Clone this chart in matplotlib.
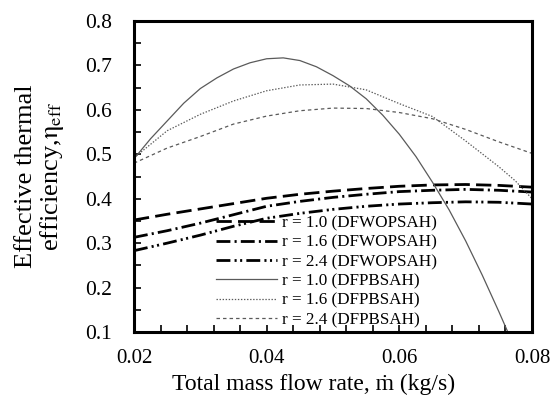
"""Effective thermal efficiency vs total mass flow rate
DFWOPSAH vs DFPBSAH, three r values each
"""

# imports

import matplotlib
matplotlib.use("Agg")
import matplotlib.pyplot as plt
from matplotlib.ticker import MultipleLocator, FixedLocator

# data

flow_wop = [0.02, 0.025, 0.03, 0.035, 0.04, 0.045, 0.05, 0.055, 0.06, 0.065, 0.07, 0.075, 0.08]
wop_r10 = [0.352, 0.365, 0.377, 0.389, 0.401, 0.410, 0.417, 0.423, 0.428, 0.431, 0.432, 0.430, 0.426]
wop_r16 = [0.313, 0.328, 0.345, 0.364, 0.383, 0.394, 0.403, 0.410, 0.416, 0.419, 0.421, 0.419, 0.415]
wop_r24 = [0.283, 0.300, 0.318, 0.338, 0.356, 0.367, 0.376, 0.383, 0.388, 0.391, 0.393, 0.392, 0.388]

flow_pb10 = [0.02, 0.0225, 0.025, 0.0275, 0.03, 0.0325, 0.035, 0.0375, 0.04, 0.0425, 0.045,
             0.0475, 0.05, 0.0525, 0.055, 0.0575, 0.06, 0.0625, 0.065, 0.0675, 0.07, 0.0725,
             0.075, 0.0765]
pb_r10 = [0.490, 0.535, 0.575, 0.615, 0.648, 0.672, 0.692, 0.706, 0.715, 0.717, 0.711,
          0.697, 0.677, 0.654, 0.625, 0.588, 0.545, 0.495, 0.437, 0.375, 0.305, 0.228,
          0.146, 0.095]

flow_pb = [0.02, 0.025, 0.03, 0.035, 0.04, 0.045, 0.05, 0.055, 0.06, 0.065, 0.07, 0.075, 0.0775, 0.08]
pb_r16 = [0.492, 0.553, 0.590, 0.620, 0.643, 0.656, 0.658, 0.645, 0.614, 0.585, 0.530, 0.472, 0.440, 0.400]
pb_r24 = [0.480, 0.514, 0.540, 0.568, 0.586, 0.598, 0.604, 0.603, 0.594, 0.580, 0.556, 0.528, 0.515, 0.502]

labels = ["r = 1.0 (DFWOPSAH)", "r = 1.6 (DFWOPSAH)", "r = 2.4 (DFWOPSAH)",
          "r = 1.0 (DFPBSAH)", "r = 1.6 (DFPBSAH)", "r = 2.4 (DFPBSAH)"]

# style

plt.rcParams['font.family'] = ['Liberation Serif', 'DejaVu Serif']
plt.rcParams['mathtext.fontset'] = 'stix'
plt.rcParams['lines.scale_dashes'] = False

fig = plt.figure(figsize=(5.57, 4.0), dpi=100)
ax = fig.add_axes([134 / 557, 68 / 400, 398 / 557, 311 / 400])

thick = 2.0
thin = 0.9
grey = '#5a5a5a'

ax.plot(flow_wop, wop_r10, color='black', lw=thick, dashes=(11, 4.5), label=labels[0])
ax.plot(flow_wop, wop_r16, color='black', lw=thick, dashes=(10, 3, 1.5, 3), label=labels[1])
ax.plot(flow_wop, wop_r24, color='black', lw=thick, dashes=(10, 3, 1.5, 2.5, 1.5, 3), label=labels[2])
ax.plot(flow_pb10, pb_r10, color=grey, lw=thin, linestyle='-', label=labels[3])
ax.plot(flow_pb, pb_r16, color=grey, lw=thin, dashes=(1.0, 1.2), label=labels[4])
ax.plot(flow_pb, pb_r24, color=grey, lw=thin, dashes=(2.5, 2.2), label=labels[5])

# axes
ax.set_xlim(0.02, 0.08)
ax.set_ylim(0.1, 0.8)
ax.xaxis.set_major_locator(FixedLocator([0.02, 0.04, 0.06, 0.08]))
ax.xaxis.set_minor_locator(MultipleLocator(0.004))
ax.yaxis.set_major_locator(MultipleLocator(0.1))
ax.yaxis.set_minor_locator(MultipleLocator(0.05))
ax.xaxis.set_major_formatter(plt.FuncFormatter(lambda v, p: f"{v:.2f}"))
ax.yaxis.set_major_formatter(plt.FuncFormatter(lambda v, p: f"{v:.1f}"))

for s in ax.spines.values():
    s.set_linewidth(2.2)

ax.tick_params(which='both', direction='in', width=1.2, length=5, top=False, right=False)
ax.tick_params(axis='y', which='major', labelsize=15.5, pad=16)
ax.tick_params(axis='x', which='major', labelsize=15, pad=12)

# texts
ax.set_xlabel("Total mass flow rate, \u1e41 (kg/s)", fontsize=17)
ax.xaxis.set_label_coords(0.45, -0.134)
ax.set_ylabel("Effective thermal\nefficiency,$\\mathrm{\\eta}_{\\mathrm{eff}}$", fontsize=19,
              multialignment='center', linespacing=1.05)
ax.yaxis.set_label_coords(-0.17, 0.5)

ax.legend(loc='lower left', bbox_to_anchor=(0.205, 0.012), frameon=False, fontsize=12.3,
          handlelength=3.6, handletextpad=0.3, labelspacing=0.2, borderpad=0, borderaxespad=0)

fig.savefig("out.png", dpi=100)
